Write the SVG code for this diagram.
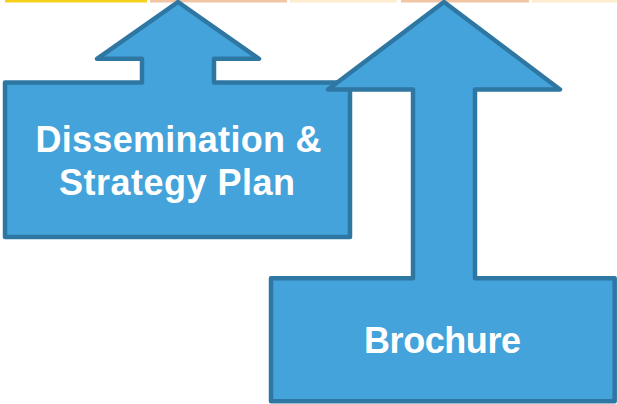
<svg xmlns="http://www.w3.org/2000/svg" width="617" height="404" viewBox="0 0 617 404">
<style>
.shape{fill:#44A3DA;stroke:#2F77A3;stroke-width:4.5;stroke-linejoin:round}
.lbl{font-family:"Liberation Sans",Arial,sans-serif;font-weight:bold;font-size:36px;fill:#FFFFFF;text-anchor:middle}
</style>
<rect width="617" height="404" fill="#FFFFFF"/>
<g id="top-bars">
<rect x="5" y="0" width="142" height="2.5" fill="#F7D01C"/>
<rect x="150" y="0" width="137" height="2.5" fill="#F2C5A4"/>
<rect x="290" y="0" width="107" height="2.5" fill="#FDECCD"/>
<rect x="401" y="0" width="128" height="2.5" fill="#F2C5A4"/>
<rect x="532" y="0" width="85" height="2.5" fill="#FDECCD"/>
</g>
<g id="connectors"></g>
<g id="node-plan">
<path class="shape" d="M5,82.5 L142,82.5 L142,58.8 L97,58.8 L178,2 L259,58.8 L214,58.8 L214,82.5 L350,82.5 L350,237 L5,237 Z"/>
<text class="lbl" x="178.5" y="151.5" textLength="286" lengthAdjust="spacing">Dissemination &amp;</text>
<text class="lbl" x="177" y="194.5" textLength="236" lengthAdjust="spacing">Strategy Plan</text>
</g>
<g id="node-brochure">
<path class="shape" d="M271,278.3 L413,278.3 L413,89.5 L328,89.5 L444,2 L560,89.5 L475,89.5 L475,278.3 L614.7,278.3 L614.7,401.3 L271,401.3 Z"/>
<text class="lbl" x="442.5" y="353" textLength="157" lengthAdjust="spacing">Brochure</text>
</g>
</svg>
